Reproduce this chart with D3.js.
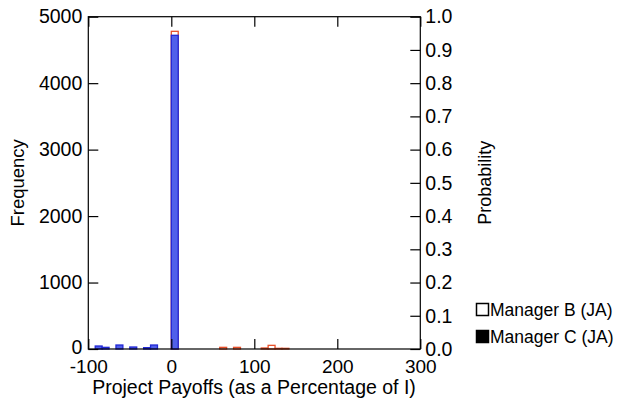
<!DOCTYPE html>
<html>
<head>
<meta charset="utf-8">
<script src="https://cdn.jsdelivr.net/npm/d3@7"></script>
<style>
  html, body { margin: 0; padding: 0; background: #fff; }
  svg { display: block; font-family: "Liberation Sans", Arial, Helvetica, sans-serif; }
</style>
</head>
<body>
<svg id="chart" width="619" height="403"></svg>
<script>
// ---- data ----
const binLow = -100;          // first bin lower edge
const binWidth = 25 / 3;      // width of each histogram bin (payoff %)
// Manager B (JA) counts per bin, 48 bins from -100 to 300
const managerB = [
  0, 0, 0, 0, 0, 0, 0, 0, 0, 0, 0, 0,
  4780, 0, 0, 0, 0, 0, 0, 25, 0, 25, 0, 0,
  0, 15, 55, 10, 10, 0, 0, 0, 0, 0, 0, 0,
  0, 0, 0, 0, 0, 0, 0, 0, 0, 0, 0, 0
];
// Manager C (JA) counts per bin, 24 bins from -100 to 100
const managerC = [
  0, 45, 25, 0, 60, 0, 30, 0, 20, 60, 0, 0,
  4720, 0, 0, 0, 0, 0, 0, 0, 0, 0, 0, 0
];
const xTicks = [-100, 0, 100, 200, 300];
const yTicks = [0, 1000, 2000, 3000, 4000, 5000];
const pTicks = [0, 0.1, 0.2, 0.3, 0.4, 0.5, 0.6, 0.7, 0.8, 0.9, 1.0];
const legendLabels = ["Manager B (JA)", "Manager C (JA)"];

// ---- layout ----
const svg = d3.select("#chart");
const L = 88.3, R = 420.3, T = 16.7, B = 349;
const x = d3.scaleLinear().domain([-100, 300]).range([L, R]);
const y = d3.scaleLinear().domain([0, 5000]).range([B, T]);
const yp = d3.scaleLinear().domain([0, 1]).range([B, T]);
const FS = 19.5;

function bins(arr) {
  return arr.map((v, i) => ({ x0: binLow + i * binWidth, x1: binLow + (i + 1) * binWidth, v }));
}

// bars: Manager B (red outline) under Manager C (blue fill)
svg.append("g").selectAll("rect").data(bins(managerB)).join("rect")
  .attr("x", d => x(d.x0))
  .attr("width", d => x(d.x1) - x(d.x0))
  .attr("y", d => y(d.v))
  .attr("height", d => y(0) - y(d.v))
  .attr("fill", "#ffffff")
  .attr("stroke", "#e8502a")
  .attr("stroke-width", 1.3);

svg.append("g").selectAll("rect").data(bins(managerC)).join("rect")
  .attr("x", d => x(d.x0))
  .attr("width", d => x(d.x1) - x(d.x0))
  .attr("y", d => y(d.v))
  .attr("height", d => y(0) - y(d.v))
  .attr("fill", "#5060ea")
  .attr("stroke", "#2228d6")
  .attr("stroke-width", 1.3);

// frame
svg.append("rect").attr("x", L).attr("y", T).attr("width", R - L).attr("height", B - T)
  .attr("fill", "none").attr("stroke", "#000").attr("stroke-width", 1.2);

const tickLen = 10;
// bottom axis
const gx = svg.append("g").attr("transform", `translate(0,${B})`)
  .call(d3.axisBottom(x).tickValues(xTicks).tickSize(-tickLen).tickPadding(11).tickFormat(d => String(d)));
// top ticks
const gxt = svg.append("g").attr("transform", `translate(0,${T})`)
  .call(d3.axisTop(x).tickValues(xTicks).tickSize(-tickLen).tickFormat(""));
// left axis
const gy = svg.append("g").attr("transform", `translate(${L},0)`)
  .call(d3.axisLeft(y).tickValues(yTicks).tickSize(-tickLen).tickPadding(6).tickFormat(d => String(d)));
// right axis (probability)
const gp = svg.append("g").attr("transform", `translate(${R},0)`)
  .call(d3.axisRight(yp).tickValues(pTicks).tickSize(-tickLen).tickPadding(5).tickFormat(d3.format(".1f")));

[gx, gxt, gy, gp].forEach(g => {
  g.select(".domain").remove();
  g.selectAll(".tick line").attr("stroke", "#000").attr("stroke-width", 1.2);
  g.selectAll("text").attr("fill", "#000").attr("font-size", FS)
    .attr("font-family", "'Liberation Sans', Arial, sans-serif");
});
gx.selectAll("text").attr("dy", "0.71em").attr("font-size", 19);
gy.selectAll(".tick text").filter(d => d === 0).attr("dy", "0.25em");

// axis titles
svg.append("text").attr("x", 254).attr("y", 394)
  .attr("text-anchor", "middle").attr("font-size", FS).text("Project Payoffs (as a Percentage of I)");
svg.append("text").attr("transform", `translate(24,${(T + B) / 2}) rotate(-90)`)
  .attr("text-anchor", "middle").attr("font-size", 18.5).text("Frequency");
svg.append("text").attr("transform", `translate(491,${(T + B) / 2}) rotate(-90)`)
  .attr("text-anchor", "middle").attr("font-size", 18).text("Probability");

// legend
const leg = svg.append("g").attr("transform", "translate(476,303)");
legendLabels.forEach((lab, i) => {
  const g = leg.append("g").attr("transform", `translate(0,${i * 27})`);
  g.append("rect").attr("x", 0.5).attr("y", 0.5).attr("width", 12).attr("height", 12)
    .attr("fill", i === 0 ? "#fff" : "#000").attr("stroke", "#000").attr("stroke-width", 1.5);
  g.append("text").attr("x", 14).attr("y", 13).attr("font-size", 17.5).text(lab);
});
</script>
</body>
</html>
